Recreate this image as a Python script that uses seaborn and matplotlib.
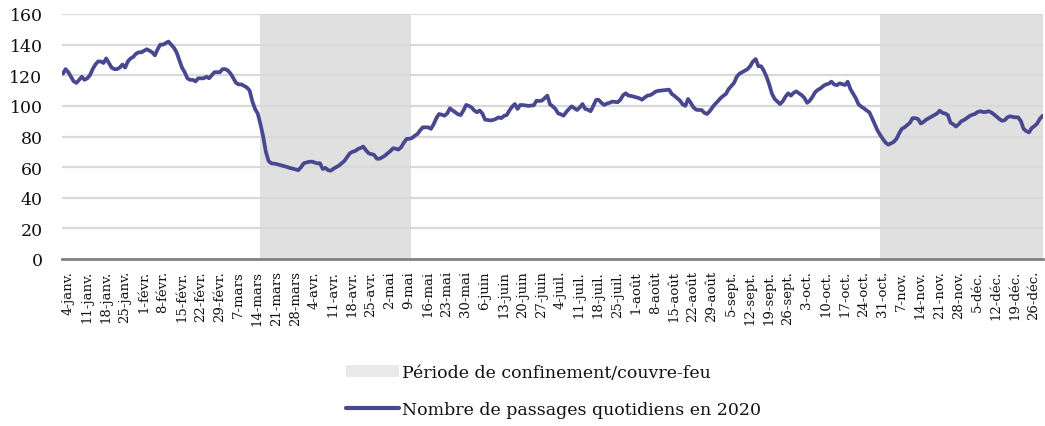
"""
Passages quotidiens 2020 avec périodes de confinement / couvre-feu.
"""

import matplotlib
matplotlib.use("Agg")
import matplotlib.pyplot as plt
import matplotlib.transforms as mtransforms
import numpy as np
import pandas as pd
import seaborn as sns
from matplotlib.lines import Line2D
from matplotlib.patches import Patch

# --- données (une valeur par jour, 4 janv. -> 31 déc.) ---
start_date = "2020-01-04"
end_date = "2020-12-31"

passages = [
    121, 124, 122, 119, 116, 115, 117, 119, 117, 118,
    120, 124, 127, 129, 129, 128, 131, 128, 125, 124,
    124, 125, 127, 125, 129, 131, 132, 134, 135, 135,
    136, 137, 136, 135, 133, 137, 140, 140, 141, 142,
    140, 138, 135, 130, 125, 122, 118, 117, 117, 116,
    118, 118, 118, 119, 118, 120, 122, 122, 122, 124,
    124, 123, 121, 118, 115, 114, 114, 113, 112, 110,
    103, 98, 95, 88, 80, 70, 64, 62.5, 62.3, 62,
    61.5, 61, 60.5, 60, 59.4, 59, 58.5, 58, 60, 62.5,
    63, 63.5, 63.6, 63, 62.5, 62.5, 58.8, 59.5, 58, 57.7,
    59, 60, 61, 62.5, 64, 66.5, 69, 70, 70.5, 71.8,
    72.5, 73.4, 71, 69, 68.5, 68, 65.5, 65.5, 66.4, 67.5,
    69, 70.5, 72.3, 72, 71.5, 73, 76, 78.4, 78.5, 79,
    80.5, 81.6, 84, 86, 86, 86, 85, 88, 92, 94.7,
    94.2, 93.6, 95, 98.4, 97, 95.8, 94.5, 94, 97, 100.6,
    100, 99, 97, 95.8, 97, 95, 91, 90.8, 90.5, 90.8,
    91.5, 92.5, 92, 93.5, 94, 97, 99.5, 101.2, 98, 100.6,
    100.5, 100.3, 100, 100.2, 100.4, 103.4, 103.2, 103.4, 105, 106.7,
    101, 99.7, 98, 95.1, 94.5, 93.6, 96, 98, 99.7, 98.5,
    97.3, 99, 101.2, 98, 97.5, 96.5, 100, 103.9, 103.9, 102,
    100.6, 101.5, 102, 102.8, 102.6, 102.4, 104, 107, 108.2, 106.7,
    106.5, 106, 105.5, 105, 104, 105.5, 106.7, 107, 108, 109.3,
    109.8, 110, 110.2, 110.4, 110.6, 107.8, 106.5, 105, 103.5, 101,
    100, 104.5, 102, 99, 97.5, 97.3, 97.3, 95.5, 94.7, 96.5,
    99, 101.2, 103, 105, 106.5, 107.8, 111, 113, 115, 119,
    121, 122, 123, 124, 126, 129, 130.6, 125.9, 125.9, 123,
    119, 114, 108, 104.5, 102.8, 101.2, 103, 106, 108.2, 106.7,
    108.5, 109.5, 108.2, 107, 105.2, 102, 103.4, 106, 109, 110.5,
    111.5, 113, 114, 114.5, 115.8, 114, 113.5, 114.7, 114.2, 113.6,
    115.8, 111, 108, 105, 101, 99.5, 98.4, 97, 95.8, 92,
    88, 84, 81, 78.4, 76, 74.7, 75.5, 76.5, 78.4, 82,
    85, 86, 87.5, 89, 92, 92, 91.4, 88.5, 89.5, 91,
    92, 93, 94, 95, 96.9, 95.5, 95, 94, 89, 88,
    86.5, 88, 90, 90.8, 92, 93.3, 94.2, 94.7, 96, 96.5,
    96, 96, 96.5, 95.8, 94.5, 93, 91.5, 90.3, 90.6, 92.5,
    93.2, 92.8, 92.5, 92.5, 90, 85, 83.5, 82.7, 85.5, 86.8,
    88.5, 91.5, 93.5,
]

# périodes de confinement / couvre-feu
periodes_debut = ["2020-03-17", "2020-11-01"]
periodes_fin = ["2020-05-11 12:00", "2020-12-31 06:00"]

mois_fr = ["janv.", "févr.", "mars", "avr.", "mai", "juin",
           "juil.", "août", "sept.", "oct.", "nov.", "déc."]

label_periode = "Période de confinement/couvre-feu"
label_serie = "Nombre de passages quotidiens en 2020"

LINE_COLOR = "#48478f"
SHADE_COLOR = "#e0e0e0"
GRID_COLOR = "#d9d9d9"

# --- mise en forme ---
dates = pd.date_range(start_date, end_date, freq="D")
assert len(dates) == len(passages)
df = pd.DataFrame({"date": dates, "passages": passages})

sns.set_theme(style="white")
plt.rcParams["font.family"] = ["DejaVu Serif", "DejaVu Sans"]

fig = plt.figure(figsize=(10.45, 4.27), dpi=100)
ax = fig.add_axes([62 / 1045, 1 - 260 / 427, (1043 - 62) / 1045, 245 / 427])

for deb, fin in zip(periodes_debut, periodes_fin):
    ax.axvspan(pd.Timestamp(deb), pd.Timestamp(fin), color=SHADE_COLOR, lw=0, zorder=0)

for y in range(20, 161, 20):
    ax.axhline(y, color=GRID_COLOR, lw=1.6, zorder=1)

sns.lineplot(data=df, x="date", y="passages", ax=ax, color=LINE_COLOR,
             lw=2.7, zorder=3, legend=False)

ax.set_ylim(0, 160)
ax.set_yticks(np.arange(0, 161, 20))
ax.set_xlim(dates[0] - pd.Timedelta(hours=8), dates[-1] + pd.Timedelta(hours=4))

ticks = pd.date_range(start_date, end_date, freq="7D")
ax.set_xticks(ticks)
ax.set_xticklabels([f"{d.day}-{mois_fr[d.month - 1]}" for d in ticks],
                   rotation=90, fontsize=9.5)
ax.tick_params(axis="x", length=0, pad=8)
ax.tick_params(axis="y", length=0, pad=14, labelsize=12.5)

# petit décalage des étiquettes de dates vers la droite
shift = mtransforms.ScaledTranslation(5 / 100, 0, fig.dpi_scale_trans)
for lab in ax.get_xticklabels():
    lab.set_transform(lab.get_transform() + shift)
    lab.set_color("#111111")
for lab in ax.get_yticklabels():
    lab.set_color("#111111")

ax.set_xlabel("")
ax.set_ylabel("")
for side in ["top", "right", "left"]:
    ax.spines[side].set_visible(False)
ax.spines["bottom"].set_color("#808080")
ax.spines["bottom"].set_linewidth(2)
ax.spines["bottom"].set_zorder(4)

handles = [
    Patch(facecolor="#e9e9e9", edgecolor="none", label=label_periode),
    Line2D([0], [0], color=LINE_COLOR, lw=3, label=label_serie),
]
fig.legend(handles=handles, loc="upper left", bbox_to_anchor=(337 / 1045, 1 - 356 / 427),
           frameon=False, fontsize=12.5, handlelength=3.05, handletextpad=0.2,
           labelspacing=1.15, borderpad=0, labelcolor="#111111")

fig.savefig("out.png", dpi=100)
